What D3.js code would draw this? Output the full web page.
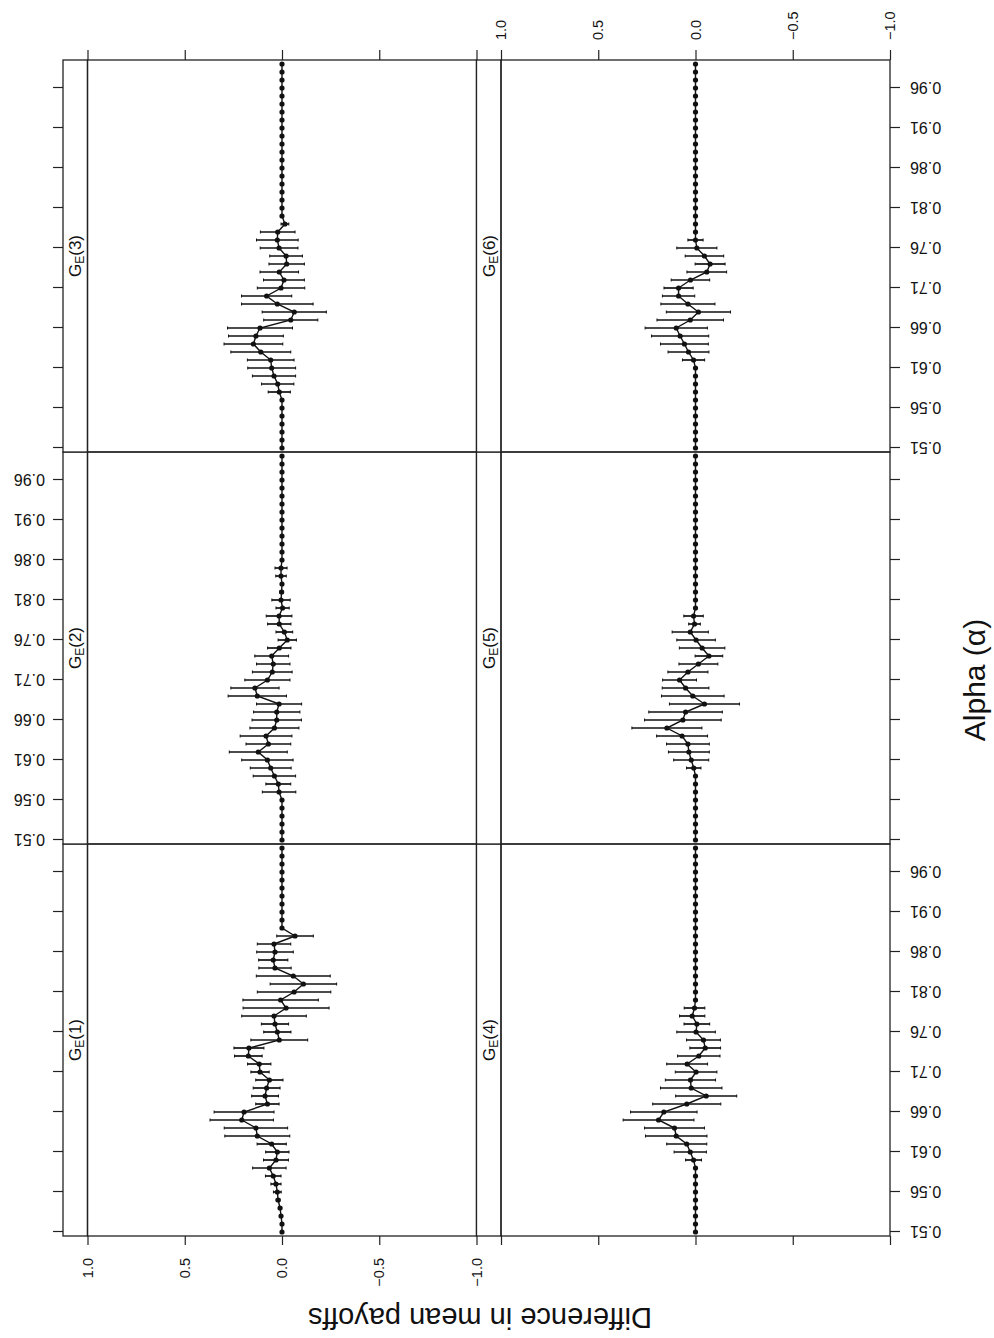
<!DOCTYPE html>
<html lang="en">
<head>
<meta charset="UTF-8">
<title>Difference in mean payoffs by alpha</title>
<style>
    body { margin: 0; background: #ffffff; }
    svg text { font-family: "Liberation Sans", Arial, Helvetica, sans-serif; fill: #111; }
    .axis line { stroke: #222; stroke-width: 1.2; }
    .axis path { display: none; }
    .frame { fill: none; stroke: #222; stroke-width: 1.3; }
    .curve { fill: none; stroke: #111; stroke-width: 1.4; }
    .bar { stroke: #111; stroke-width: 1.7; }
</style>
<script src="https://cdn.jsdelivr.net/npm/d3@7"></script>
</head>
<body>
<div id="chart"></div>
<script>
// alpha values (x) and tick labels
var alpha = [0.51,0.52,0.53,0.54,0.55,0.56,0.57,0.58,0.59,0.60,
             0.61,0.62,0.63,0.64,0.65,0.66,0.67,0.68,0.69,0.70,
             0.71,0.72,0.73,0.74,0.75,0.76,0.77,0.78,0.79,0.80,
             0.81,0.82,0.83,0.84,0.85,0.86,0.87,0.88,0.89,0.90,
             0.91,0.92,0.93,0.94,0.95,0.96,0.97,0.98,0.99];
var alphaTicks = [0.51,0.56,0.61,0.66,0.71,0.76,0.81,0.86,0.91,0.96];
var valueTicks = [-1,-0.5,0,0.5,1];
var panelNames = ["1","2","3","4","5","6"];

// mean difference per alpha, one array per game
var meanG1 = [0,0,0.005,0.01,0.02,0.024,0.031,0.045,0.065,0.031,
              0.024,0.053,0.127,0.134,0.207,0.195,0.075,0.087,0.079,0.065,
              0.113,0.117,0.173,0.170,0.014,0.024,0.036,0.041,-0.021,0.007,
              -0.062,-0.110,-0.058,0.036,0.045,0.036,0.041,-0.067,0,0,
              0,0,0,0,0,0,0,0,0];
var errG1 = [0,0,0.006,0.008,0.01,0.02,0.026,0.04,0.086,0.064,
             0.06,0.075,0.167,0.163,0.163,0.154,0.06,0.069,0.069,0.07,
             0.047,0.06,0.071,0.077,0.146,0.07,0.07,0.166,0.221,0.194,
             0.189,0.171,0.19,0.083,0.075,0.094,0.086,0.094,0,0,
             0,0,0,0,0,0,0,0,0];
var meanG2 = [0,0,0,0,0,0,0.015,0.019,0.039,0.058,
              0.075,0.122,0.07,0.082,0.039,0.027,0.027,0.015,0.127,0.139,
              0.075,0.05,0.045,0.053,0.014,-0.027,-0.012,0.014,0.015,-0.003,
              0.005,0.002,0,0.005,0.005,0,0,0,0,0,
              0,0,0,0,0,0,0,0,0];
var errG2 = [0,0,0,0,0,0,0.086,0.064,0.109,0.105,
             0.132,0.149,0.115,0.133,0.126,0.127,0.119,0.116,0.15,0.124,
             0.116,0.102,0.086,0.087,0.06,0.047,0.043,0.06,0.066,0.034,
             0.047,0.01,0,0.027,0.031,0,0,0,0,0,
             0,0,0,0,0,0,0,0,0];
var meanG3 = [0,0,0,0,0,0,0,0.014,0.022,0.041,
              0.053,0.058,0.109,0.147,0.134,0.113,-0.045,-0.063,0.024,0.079,
              0.005,-0.01,0.014,-0.024,-0.021,0.015,0.024,0.022,-0.015,0,
              0,0,0,0,0,0,0,0,0,0,
              0,0,0,0,0,0,0,0,0];
var errG3 = [0,0,0,0,0,0,0,0.057,0.083,0.111,
             0.123,0.12,0.154,0.151,0.141,0.167,0.139,0.165,0.184,0.129,
             0.122,0.105,0.099,0.091,0.084,0.097,0.107,0.089,0.02,0,
             0,0,0,0,0,0,0,0,0,0,
             0,0,0,0,0,0,0,0,0];
var meanG4 = [0,0,0,0,0,0,0,0,0,0.01,
              0.027,0.045,0.099,0.108,0.19,0.163,0.045,-0.055,0.022,0.026,
              -0.003,0.043,-0.017,-0.05,-0.041,-0.003,-0.007,0.017,0.005,0,
              0,0,0,0,0,0,0,0,0,0,
              0,0,0,0,0,0,0,0,0];
var errG4 = [0,0,0,0,0,0,0,0,0,0.041,
             0.083,0.103,0.158,0.154,0.182,0.171,0.175,0.157,0.158,0.129,
             0.107,0.105,0.109,0.079,0.087,0.099,0.066,0.065,0.053,0,
             0,0,0,0,0,0,0,0,0,0,
             0,0,0,0,0,0,0,0,0];
var meanG5 = [0,0,0,0,0,0,0,0,0,0.009,
              0.022,0.034,0.039,0.069,0.147,0.065,0.051,-0.046,0.014,0.051,
              0.082,0.039,-0.015,-0.069,-0.034,-0.003,0.027,0.005,0.01,0,
              0,0,0,0,0,0,0,0,0,0,
              0,0,0,0,0,0,0,0,0];
var errG5 = [0,0,0,0,0,0,0,0,0,0.037,
             0.09,0.105,0.11,0.131,0.18,0.197,0.189,0.18,0.161,0.12,
             0.087,0.103,0.1,0.071,0.117,0.099,0.093,0.03,0.05,0,
             0,0,0,0,0,0,0,0,0,0,
             0,0,0,0,0,0,0,0,0];
var meanG6 = [0,0,0,0,0,0,0,0,0,0,
              0,0.01,0.036,0.057,0.079,0.099,0.027,-0.015,0.039,0.087,
              0.087,0.026,-0.058,-0.075,-0.046,-0.007,0,0,0,0,
              0,0,0,0,0,0,0,0,0,0,
              0,0,0,0,0,0,0,0,0];
var errG6 = [0,0,0,0,0,0,0,0,0,0,
             0,0.057,0.105,0.123,0.147,0.16,0.171,0.165,0.139,0.083,
             0.075,0.099,0.102,0.077,0.099,0.103,0.039,0,0,0,
             0,0,0,0,0,0,0,0,0,0,
             0,0,0,0,0,0,0,0,0];

var means = [meanG1, meanG2, meanG3, meanG4, meanG5, meanG6];
var errs = [errG1, errG2, errG3, errG4, errG5, errG6];

// the figure is drawn upright and then turned a quarter turn counter-clockwise
var W = 994, H = 1338;
var colLeft = [102, 494, 886], colW = 392;
var stripTop = [63, 476.5], stripH = 24.5, panelH = 389;

var svg = d3.select("#chart").append("svg")
    .attr("width", W)
    .attr("height", H);

var g = svg.append("g")
    .attr("transform", "translate(0," + H + ") rotate(-90)");

var fmtA = d3.format(".2f");
var fmtV = d3.format(".1f");

panelNames.forEach(function(name, k) {
    var r = Math.floor(k / 3), c = k % 3;
    var top = stripTop[r] + stripH, bottom = top + panelH;
    var x = d3.scaleLinear().domain([0.505, 0.995]).range([colLeft[c], colLeft[c] + colW]);
    var y = d3.scaleLinear().domain([-1, 1]).range([bottom, top]);
    var p = g.append("g").attr("class", "panel");

    // strip
    p.append("rect").attr("class", "frame")
        .attr("x", colLeft[c]).attr("y", stripTop[r])
        .attr("width", colW).attr("height", stripH)
        .style("fill", "#fff");
    var lab = p.append("text")
        .attr("x", colLeft[c] + colW / 2)
        .attr("y", stripTop[r] + stripH / 2 + 6)
        .attr("text-anchor", "middle")
        .style("font-size", "17px");
    lab.append("tspan").text("G");
    lab.append("tspan").attr("dy", 3).style("font-size", "12px").text("E");
    lab.append("tspan").attr("dy", -3).text("(" + name + ")");

    // panel frame
    p.append("rect").attr("class", "frame")
        .attr("x", colLeft[c]).attr("y", top)
        .attr("width", colW).attr("height", panelH);

    var pts = alpha.map(function(a, i) { return {a: a, m: means[k][i], e: errs[k][i]}; });

    // error bars
    var eb = pts.filter(function(d) { return d.e > 0; });
    p.selectAll(".bar").data(eb).enter().append("line")
        .attr("class", "bar")
        .attr("x1", function(d) { return x(d.a); })
        .attr("x2", function(d) { return x(d.a); })
        .attr("y1", function(d) { return y(d.m - d.e); })
        .attr("y2", function(d) { return y(d.m + d.e); });
    [-1, 1].forEach(function(s) {
        p.selectAll(".cap" + s).data(eb).enter().append("line")
            .attr("class", "bar")
            .style("stroke-width", 1)
            .attr("x1", function(d) { return x(d.a) - 1.5; })
            .attr("x2", function(d) { return x(d.a) + 1.5; })
            .attr("y1", function(d) { return y(d.m + s * d.e); })
            .attr("y2", function(d) { return y(d.m + s * d.e); });
    });

    // mean line and points
    p.append("path").datum(pts).attr("class", "curve")
        .attr("d", d3.line().x(function(d) { return x(d.a); }).y(function(d) { return y(d.m); }));
    p.selectAll("circle").data(pts).enter().append("circle")
        .attr("cx", function(d) { return x(d.a); })
        .attr("cy", function(d) { return y(d.m); })
        .attr("r", 2.6)
        .style("fill", "#111");

    // alpha axis: labels bottom for columns 1 and 3, top for column 2
    if (r === 1) {
        var ab = p.append("g").attr("class", "axis")
            .attr("transform", "translate(0," + bottom + ")")
            .call(d3.axisBottom(x).tickValues(alphaTicks).tickSize(10).tickSizeOuter(0)
                .tickFormat(c === 1 ? "" : fmtA));
        ab.selectAll("text")
            .attr("transform", "rotate(-90)")
            .attr("x", -20).attr("y", 0).attr("dy", "0.35em")
            .attr("text-anchor", "end")
            .style("font-size", "16px");
    }
    if (r === 0) {
        var at = p.append("g").attr("class", "axis")
            .attr("transform", "translate(0," + stripTop[0] + ")")
            .call(d3.axisTop(x).tickValues(alphaTicks).tickSize(10).tickSizeOuter(0)
                .tickFormat(c === 1 ? fmtA : ""));
        at.selectAll("text")
            .attr("transform", "rotate(-90)")
            .attr("x", 18).attr("y", 0).attr("dy", "0.35em")
            .attr("text-anchor", "start")
            .style("font-size", "16px");
    }

    // value axis: labels left for top row, right for bottom row
    if (c === 0) {
        p.append("g").attr("class", "axis")
            .attr("transform", "translate(" + colLeft[0] + ",0)")
            .call(d3.axisLeft(y).tickValues(valueTicks).tickSize(9).tickPadding(13).tickSizeOuter(0)
                .tickFormat(r === 0 ? fmtV : ""))
            .selectAll("text").style("font-size", "14.5px");
    }
    if (c === 2) {
        p.append("g").attr("class", "axis")
            .attr("transform", "translate(" + (colLeft[2] + colW) + ",0)")
            .call(d3.axisRight(y).tickValues(valueTicks).tickSize(10).tickPadding(10).tickSizeOuter(0)
                .tickFormat(r === 1 ? fmtV : ""))
            .selectAll("text").style("font-size", "14.5px");
    }
});

// axis titles
g.append("text")
    .attr("transform", "translate(30,480) rotate(-90)")
    .attr("text-anchor", "middle")
    .style("font-size", "29px")
    .text("Difference in mean payoffs");

g.append("text")
    .attr("x", H - 680)
    .attr("y", 985)
    .attr("text-anchor", "middle")
    .style("font-size", "30px")
    .text("Alpha (\u03b1)");
</script>
</body>
</html>
